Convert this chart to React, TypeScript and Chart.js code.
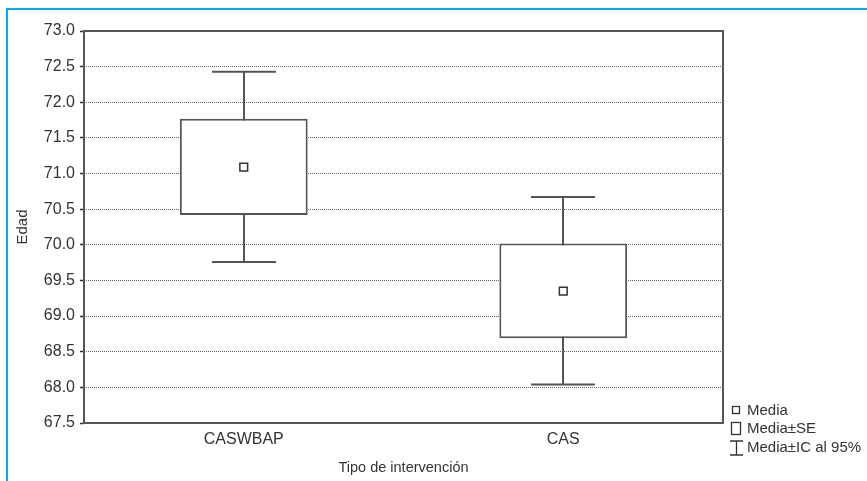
import React, { useEffect, useRef } from "react";
import { Chart, registerables } from "chart.js";

Chart.register(...registerables);

const categories = ["CASWBAP", "CAS"];
const means = [71.09, 69.35];
const seLow = [70.42, 68.69];
const seHigh = [71.77, 70.02];
const ciLow = [69.76, 68.04];
const ciHigh = [72.43, 70.67];
const yTitle = "Edad";
const xTitle = "Tipo de intervención";
const legendLabels = ["Media", "Media±SE", "Media±IC al 95%"];

const FONT = "'Liberation Sans', Arial, Helvetica, sans-serif";
const INK = "#555";

const whiskerPlugin = {
  id: "whiskers",
  beforeDatasetsDraw(chart: any) {
    const { ctx, scales } = chart;
    const xs = scales.x;
    const ys = scales.y;
    const catW = (xs.right - xs.left) / categories.length;
    const capHalf = catW * 0.1;
    ctx.save();
    ctx.strokeStyle = INK;
    ctx.lineWidth = 2;
    categories.forEach((_, i) => {
      const x = Math.round(xs.getPixelForValue(i));
      const yl = ys.getPixelForValue(ciLow[i]);
      const yh = ys.getPixelForValue(ciHigh[i]);
      ctx.beginPath();
      ctx.moveTo(x, yl);
      ctx.lineTo(x, yh);
      ctx.moveTo(x - capHalf, yl);
      ctx.lineTo(x + capHalf, yl);
      ctx.moveTo(x - capHalf, yh);
      ctx.lineTo(x + capHalf, yh);
      ctx.stroke();
    });
    ctx.restore();
  },
  afterDatasetsDraw(chart: any) {
    const { ctx, chartArea: a } = chart;
    ctx.save();
    ctx.strokeStyle = INK;
    ctx.lineWidth = 2;
    ctx.strokeRect(a.left, a.top, a.right - a.left, a.bottom - a.top);
    ctx.restore();
  },
};

const legendPlugin = {
  id: "customLegend",
  afterDraw(chart: any) {
    const { ctx, chartArea: a } = chart;
    const x0 = a.right + 8;
    ctx.save();
    ctx.strokeStyle = "#333";
    ctx.lineWidth = 1.3;
    ctx.strokeRect(x0 + 1.5, 406.5, 7, 7);
    ctx.strokeRect(x0 + 0.5, 422.5, 9, 12);
    ctx.beginPath();
    ctx.moveTo(x0 + 5.5, 441);
    ctx.lineTo(x0 + 5.5, 455);
    ctx.moveTo(x0 - 1, 441);
    ctx.lineTo(x0 + 12, 441);
    ctx.moveTo(x0 - 1, 455);
    ctx.lineTo(x0 + 12, 455);
    ctx.stroke();
    ctx.fillStyle = "#333";
    ctx.font = `15px ${FONT}`;
    ctx.textBaseline = "middle";
    ctx.textAlign = "left";
    const ys = [410.5, 429, 448];
    legendLabels.forEach((t, i) => ctx.fillText(t, x0 + 16, ys[i]));
    ctx.restore();
  },
};

export default function App() {
  const ref = useRef<HTMLCanvasElement | null>(null);

  useEffect(() => {
    document.body.style.margin = "0";
    const canvas = ref.current;
    if (!canvas) return;
    const chart = new Chart(canvas, {
      type: "bar",
      data: {
        labels: categories,
        datasets: [
          {
            type: "line",
            label: legendLabels[0],
            data: means,
            showLine: false,
            pointStyle: "rect",
            pointRadius: 5.5,
            pointBorderWidth: 1.5,
            pointBorderColor: "#333",
            pointBackgroundColor: "#fff",
          } as any,
          {
            type: "bar",
            label: legendLabels[1],
            data: categories.map((_, i) => [seLow[i], seHigh[i]]),
            backgroundColor: "#fff",
            borderColor: INK,
            borderWidth: 2,
            borderSkipped: false,
            barPercentage: 0.4,
            categoryPercentage: 1,
          } as any,
        ],
      },
      options: {
        animation: false,
        responsive: false,
        maintainAspectRatio: false,
        devicePixelRatio: 1,
        layout: { padding: { left: 0, top: 31, right: 144, bottom: 0 } },
        plugins: {
          legend: { display: false },
          tooltip: { enabled: false },
        },
        scales: {
          x: {
            type: "category",
            offset: true,
            grid: { display: false, drawTicks: false },
            border: { display: false },
            ticks: {
              padding: 7,
              color: "#333",
              font: { family: FONT, size: 16 },
            },
            title: {
              display: true,
              text: xTitle,
              color: "#333",
              font: { family: FONT, size: 14.5 },
              padding: { top: 0, bottom: 4 },
            },
            afterFit: (s: any) => {
              s.height = 58;
            },
          },
          y: {
            min: 67.5,
            max: 73,
            ticks: {
              stepSize: 0.5,
              autoSkip: false,
              padding: 5,
              color: "#333",
              font: { family: FONT, size: 16 },
              callback: (v: any) => Number(v).toFixed(1),
            },
            grid: {
              color: "#666",
              lineWidth: 1,
              tickLength: 4,
              tickColor: "#333",
              tickWidth: 1.5,
            },
            border: { display: false, dash: [1, 1] },
            title: {
              display: true,
              text: yTitle,
              color: "#333",
              font: { family: FONT, size: 15 },
              padding: { top: 14, bottom: 0 },
            },
            afterFit: (s: any) => {
              s.width = 84;
            },
          },
        },
      },
      plugins: [whiskerPlugin, legendPlugin],
    });
    return () => chart.destroy();
  }, []);

  return (
    <div style={{ position: "relative", width: 867, height: 481, background: "#fff" }}>
      <div
        style={{
          position: "absolute",
          left: 6,
          top: 8,
          right: 0,
          bottom: 0,
          borderLeft: "2px solid #00aeef",
          borderTop: "2px solid #00aeef",
        }}
      />
      <canvas
        ref={ref}
        width={867}
        height={481}
        style={{ position: "absolute", left: 0, top: 0, width: 867, height: 481 }}
      />
    </div>
  );
}
